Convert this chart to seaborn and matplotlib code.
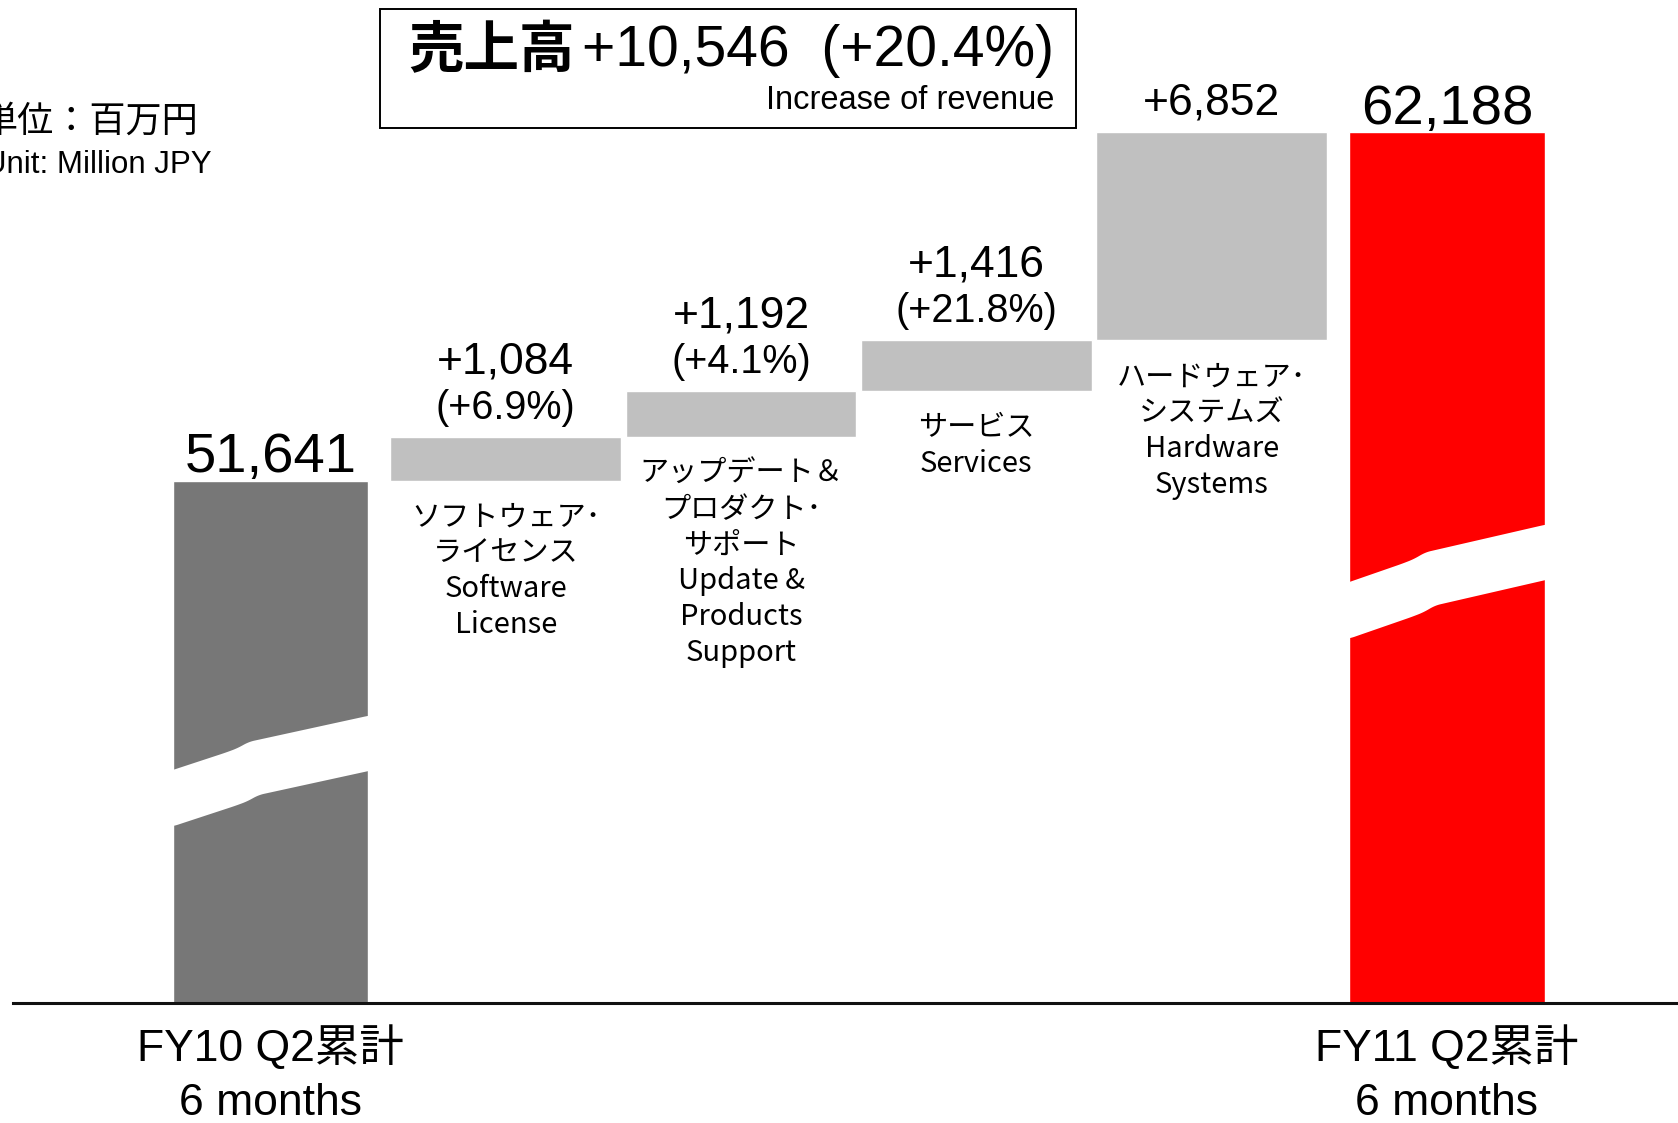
import numpy as np
import pandas as pd
import seaborn as sns
import matplotlib.pyplot as plt
from matplotlib.patches import Rectangle, Polygon

# chart values
order = ["FY10", "SW", "UPD", "SRV", "HW", "FY11"]
total_labels = ["FY10 Q2累計\n6 months", "FY11 Q2累計\n6 months"]
totals = [51641, 62188]
seg_jp = ["ソフトウェア･\nライセンス", "アップデート＆\nプロダクト･\nサポート", "サービス", "ハードウェア･\nシステムズ"]
seg_en = ["Software\nLicense", "Update &\nProducts\nSupport", "Services", "Hardware\nSystems"]
increases = [1084, 1192, 1416, 6852]
growth = ["+6.9%", "+4.1%", "+21.8%", None]
title_jp = "売上高"
title_num = "+10,546  (+20.4%)"
title_en = "Increase of revenue"
unit_jp = "単位：百万円"
unit_en = "Unit: Million JPY"

sns.set_style("white")
plt.rcParams['font.family'] = ['Liberation Sans', 'Noto Sans CJK JP']
plt.rcParams['text.color'] = 'black'
plt.rcParams['xtick.color'] = 'black'
JP = ['Noto Sans CJK JP', 'DejaVu Sans']

W, H = 1678, 1123
fig = plt.figure(figsize=(W / 100, H / 100), dpi=100)
ax = fig.add_axes([13 / W, 1 - 1003 / H, 1 - 13 / W, 1003 / H])

tot_df = pd.DataFrame({"cat": [order[0], order[-1]], "value": totals})
sns.barplot(data=tot_df, x="cat", y="value", hue="cat", order=order,
            palette={order[0]: "#777777", order[-1]: "#ff0000"}, saturation=1,
            width=0.83, errorbar=None, legend=False, ax=ax)

bottoms = totals[0] + np.concatenate([[0], np.cumsum(increases)[:-1]])
step_df = pd.DataFrame({"cat": order[1:-1], "inc": increases, "base": bottoms})
sns.barplot(data=step_df, x="cat", y="inc", order=order, bottom=step_df["base"].to_numpy(),
            color="#c0c0c0", saturation=1, width=0.98, errorbar=None, ax=ax)

# broken axis: linear below the FY10 total, compressed above it (as in the original slide)
v0, b = totals[0], 19000.0


def fwd(v):
    d = (np.asarray(v, dtype=float) - v0) / b
    return np.where(d >= 0, np.log1p(np.maximum(d, 0)), d)


def inv(u):
    u = np.asarray(u, dtype=float)
    return v0 + b * np.where(u >= 0, np.expm1(np.maximum(u, 0)), u)


ax.set_yscale("function", functions=(fwd, inv))
ax.set_ylim(inv(-0.6619), inv(0.6087))
ax.set_xlim(-1.094, 5.982)
ax.set_xlabel("")
ax.set_ylabel("")
ax.set_yticks([])
ax.yaxis.set_minor_locator(plt.NullLocator())
ax.set_xticks([0, len(order) - 1])
ax.set_xticklabels(total_labels, fontsize=32, linespacing=1.4)
ax.tick_params(axis="x", length=0, pad=16)
for s in ["top", "right", "left"]:
    ax.spines[s].set_visible(False)
ax.spines["bottom"].set_linewidth(2.2)
ax.spines["bottom"].set_color("#111111")


# white wavy break bands on the tall bars
def break_band(xc, half, y_left, rise, thick):
    t = np.linspace(-0.05, 1.05, 300)
    cp_t = [-0.05, 0, 0.27, 0.33, 0.39, 1, 1.05]
    cp_f = [-0.06, 0, 0.32, 0.40, 0.52, 1, 1.03]
    k = np.ones(15) / 15

    def shape(tt):
        f = np.interp(tt, cp_t, cp_f)
        fp = np.pad(f, 7, mode="edge")
        return np.convolve(fp, k, mode="valid")
    x = xc - half + 2 * half * t
    top = y_left + rise * shape(t)
    bot = y_left - thick + rise * shape(t - 0.05)
    pts = np.column_stack([np.concatenate([x, x[::-1]]), np.concatenate([top, bot[::-1]])])
    ax.add_patch(Polygon(pts, closed=True, facecolor="white", edgecolor="none",
                         transform=ax.get_xaxis_transform(), zorder=5))


break_band(0, 0.415, 0.2323, 0.054, 0.053)
break_band(len(order) - 1, 0.415, 0.4197, 0.057, 0.053)

# total value labels
for i, v in zip([0, len(order) - 1], totals):
    ax.annotate(f"{v:,}", (i, v), xytext=(0, 16), textcoords="offset points",
                ha="center", va="center", fontsize=40.5)

# step labels
for j, (inc, base, g) in enumerate(zip(increases, bottoms, growth)):
    x = j + 1
    top = base + inc
    if g:
        ax.annotate(f"+{inc:,}", (x, top), xytext=(0, 54), textcoords="offset points",
                    ha="center", va="center", fontsize=32)
        ax.annotate(f"({g})", (x, top), xytext=(0, 21), textcoords="offset points",
                    ha="center", va="center", fontsize=28.5)
    else:
        ax.annotate(f"+{inc:,}", (x, top), xytext=(0, 21), textcoords="offset points",
                    ha="center", va="center", fontsize=32)
    ax.annotate(seg_jp[j] + "\n" + seg_en[j], (x, base), xytext=(0, -16),
                textcoords="offset points", ha="center", va="top",
                fontsize=21, family=JP, linespacing=1.25)

# title box and unit note
fig.patches.append(Rectangle((380 / W, 1 - 128.4 / H), (1076 - 380) / W, 119.8 / H,
                             transform=fig.transFigure, facecolor="none",
                             edgecolor="black", linewidth=1.4))
fig.text(408 / W, 1 - 51 / H, title_jp, ha="left", va="center", fontsize=40,
         fontweight="bold", family=JP)
fig.text(1054 / W, 1 - 51 / H, title_num, ha="right", va="center", fontsize=41)
fig.text(1054 / W, 1 - 100.6 / H, title_en, ha="right", va="center", fontsize=23.5)
fig.text(198 / W, 1 - 122 / H, unit_jp, ha="right", va="center", fontsize=26, family=JP)
fig.text(212 / W, 1 - 165 / H, unit_en, ha="right", va="center", fontsize=22.5)

fig.savefig("out.png", dpi=100)
